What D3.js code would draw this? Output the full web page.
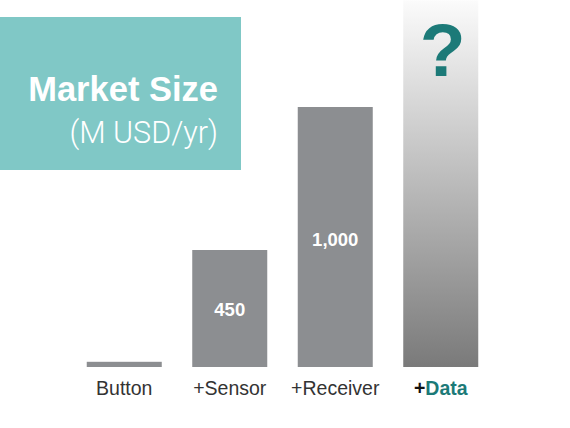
<!DOCTYPE html>
<html><head><meta charset="utf-8">
<script src="https://cdn.jsdelivr.net/npm/d3@7"></script>
<style>html,body{margin:0;padding:0;background:#fff;}svg{display:block;}</style>
</head><body>
<svg id="c" width="570" height="428"></svg>
<script>
const categories = ["Button", "+Sensor", "+Receiver", "+Data"];
const values = [20, 450, 1000, 1410];
const valueLabels = ["", "450", "1,000", "?"];
const titleLines = ["Market Size", "(M USD/yr)"];

const svg = d3.select("#c");
const font = "'Liberation Sans', Arial, Helvetica, sans-serif";

// title box
svg.append("rect").attr("x", 0).attr("y", 17).attr("width", 241).attr("height", 153).attr("fill", "#80c8c6");
svg.append("text").attr("x", 218).attr("y", 101).attr("text-anchor", "end")
  .attr("font-family", font).attr("font-weight", "bold").attr("font-size", 34.5)
  .attr("fill", "#fff").text(titleLines[0]);
svg.append("text").attr("x", 218).attr("y", 143).attr("text-anchor", "end")
  .attr("font-family", "Roboto, " + font).attr("font-weight", 300).attr("font-size", 30.5)
  .attr("fill", "#fff").text(titleLines[1]);

const x = d3.scaleBand().domain(categories).range([71.5, 493.5]).paddingInner(0.289).paddingOuter(0.1445);
const y = d3.scaleLinear().domain([0, 1000]).range([367, 107]);

const defs = svg.append("defs");
const g = defs.append("linearGradient").attr("id", "grad").attr("x1", 0).attr("y1", 0).attr("x2", 0).attr("y2", 1);
g.append("stop").attr("offset", "0%").attr("stop-color", "#fbfbfb");
g.append("stop").attr("offset", "100%").attr("stop-color", "#7a7a7a");

const data = categories.map((c, i) => ({c, v: values[i], l: valueLabels[i], i}));

svg.selectAll("rect.bar").data(data).join("rect").attr("class", "bar")
  .attr("x", d => x(d.c)).attr("width", x.bandwidth())
  .attr("y", d => y(d.v)).attr("height", d => y(0) - y(d.v))
  .attr("fill", d => d.i === 3 ? "url(#grad)" : "#8c8e91");

// value labels
svg.selectAll("text.val").data(data.filter(d => d.l && d.i < 3)).join("text").attr("class", "val")
  .attr("x", d => x(d.c) + x.bandwidth() / 2)
  .attr("y", d => d.i === 1 ? y(d.v) + 66 : y(d.v) + 139)
  .attr("text-anchor", "middle").attr("font-family", font).attr("font-weight", "bold")
  .attr("font-size", 18.5).attr("fill", "#fff").text(d => d.l);

svg.append("text").attr("x", x(categories[3]) + x.bandwidth() / 2 + 2).attr("y", 76)
  .attr("text-anchor", "middle").attr("font-family", font).attr("font-weight", "bold")
  .attr("font-size", 75).attr("fill", "#1c7a78").text(valueLabels[3]);

// category labels
const xAxis = d3.axisBottom(x).tickSize(0).tickPadding(0);
const ax = svg.append("g").attr("transform", "translate(0,381)").call(xAxis);
ax.select(".domain").remove();
ax.selectAll(".tick text").attr("font-family", font).attr("font-size", 19.5).attr("fill", "#333")
  .attr("dy", 0).attr("y", 14)
  .each(function(d) {
    if (d === "+Data") {
      const t = d3.select(this).text("").attr("font-weight", "bold");
      t.append("tspan").attr("fill", "#111").text("+");
      t.append("tspan").attr("fill", "#1c7a78").text("Data");
    }
  });
</script>
</body></html>
